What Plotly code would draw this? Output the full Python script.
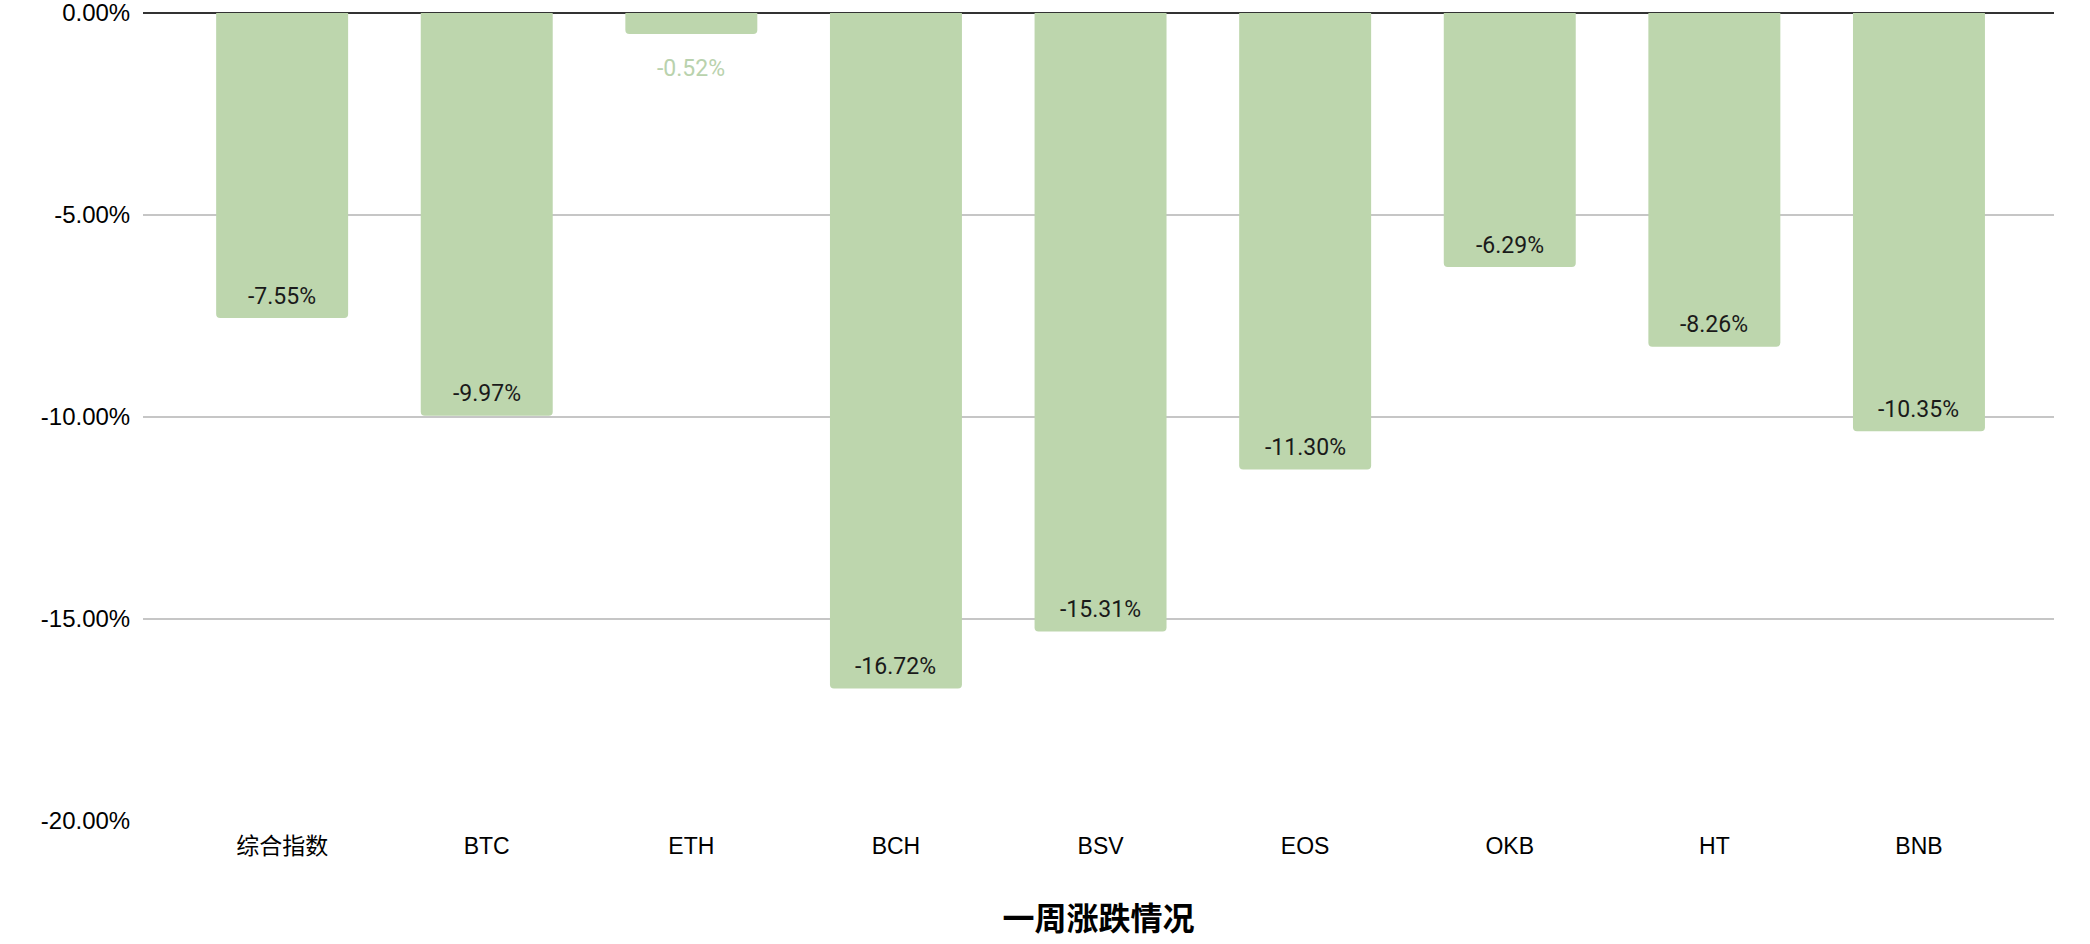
import plotly.graph_objects as go

categories = ["综合指数", "BTC", "ETH", "BCH", "BSV", "EOS", "OKB", "HT", "BNB"]
values_pct = [-7.55, -9.97, -0.52, -16.72, -15.31, -11.30, -6.29, -8.26, -10.35]
y_ticks_pct = [0, -5, -10, -15, -20]
axis_title = "一周涨跌情况"

BAR = "#bdd6ad"
values = [v / 100 for v in values_pct]

fig = go.Figure()
fig.add_trace(go.Bar(
    x=categories, y=values,
    marker=dict(color=BAR, cornerradius=4, line=dict(width=0)),
    hoverinfo="skip",
))

for c, v, vp in zip(categories, values, values_pct):
    inside = abs(vp) > 2
    fig.add_annotation(
        x=c, y=v, text=f"{vp:.2f}%", showarrow=False,
        yanchor="middle", xanchor="center",
        yshift=22 if inside else -34,
        font=dict(family="Roboto, Liberation Sans, sans-serif", size=23,
                  color="#1a1a1a" if inside else "#b9d2ad"),
    )

fig.update_layout(
    width=2090, height=944,
    margin=dict(l=143, r=36, t=13, b=123, autoexpand=False),
    paper_bgcolor="white", plot_bgcolor="white",
    showlegend=False,
    bargap=0.355,
    font=dict(family="Liberation Sans, Noto Sans CJK SC, sans-serif", size=22, color="#000"),
    xaxis=dict(
        type="category",
        range=[-0.68, 8.66],
        automargin=False,
        showgrid=False, showline=False, zeroline=False,
        ticks="outside", ticklen=4, tickcolor="rgba(0,0,0,0)",
        tickfont=dict(family="Liberation Sans, Noto Sans CJK SC, sans-serif", size=23, color="#000"),
        title=dict(text=f"<b>{axis_title}</b>", standoff=50,
                   font=dict(family="Noto Sans CJK SC, sans-serif", size=32, color="#000")),
    ),
    yaxis=dict(
        range=[-0.20, 0.0],
        automargin=False,
        tickvals=[t / 100 for t in y_ticks_pct],
        ticktext=[f"{t:.2f}%" for t in y_ticks_pct],
        ticklabeloverflow="allow",
        showgrid=True, gridcolor="#c6c6c6", gridwidth=1.5,
        zeroline=True, zerolinecolor="#333333", zerolinewidth=2,
        showline=False,
        ticks="outside", ticklen=7, tickcolor="rgba(0,0,0,0)",
        tickfont=dict(family="Liberation Sans, sans-serif", size=24, color="#000"),
    ),
)

fig.write_html("out.html", config={"displayModeBar": False},
               post_script="document.body.style.margin='0px';")
